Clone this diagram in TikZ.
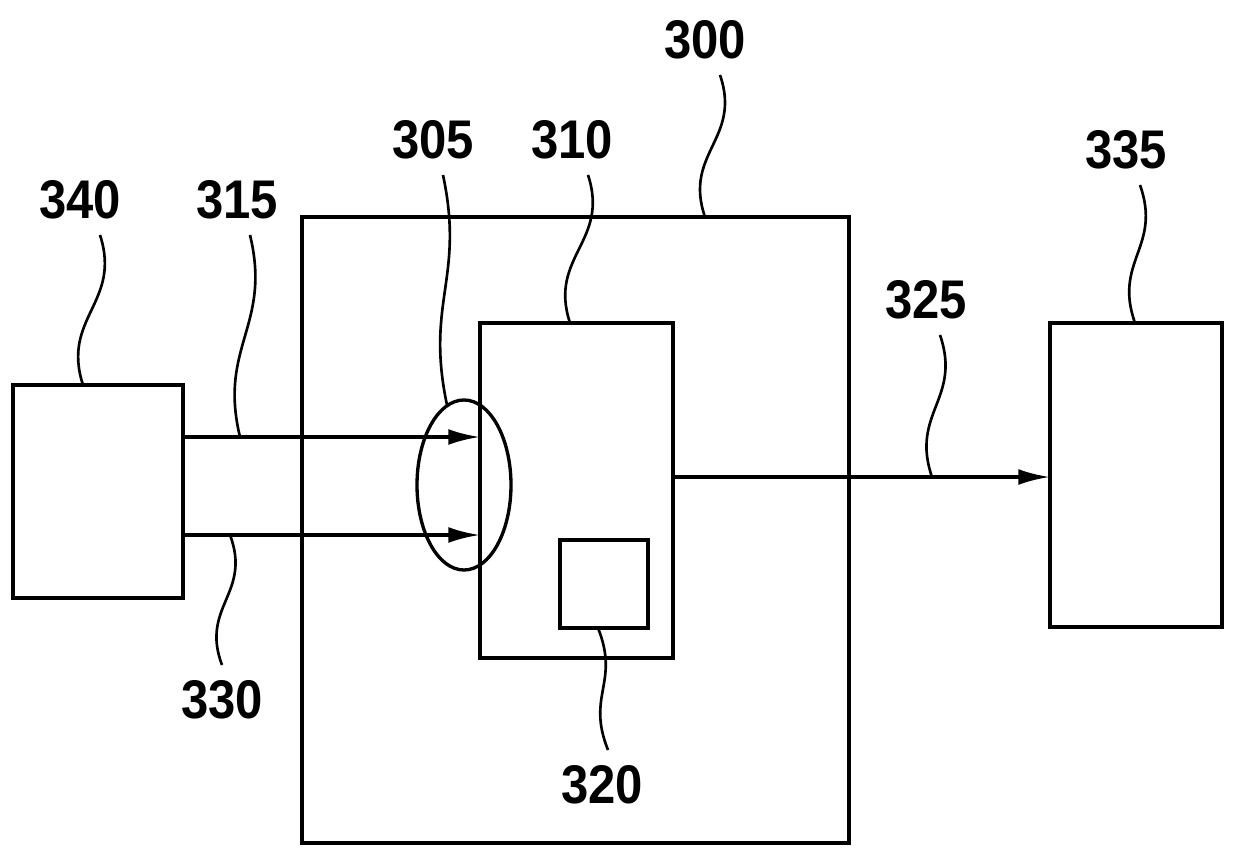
\documentclass[tikz,border=0pt]{standalone}
\usepackage{fontspec}
\setmainfont{Liberation Sans}
\usetikzlibrary{arrows.meta}
\begin{document}
\begin{tikzpicture}[x=0.02cm,y=-0.02cm,line width=1.9pt,
  lbl/.style={font=\bfseries\fontsize{31}{31}\selectfont,inner sep=0pt,xscale=0.9},
  box/.style={draw},
  arr/.style={-{Latex[length=18pt,width=9pt]}},
  lead/.style={line width=1.5pt}]
\useasboundingbox (0,0) rectangle (1237,858);
\draw[box] (302,217) rectangle (849,843);
\draw[box] (480,323) rectangle (673,658);
\draw[box] (560,540) rectangle (648,628);
\draw[box] (13,385) rectangle (183,598);
\draw[box] (1050,323) rectangle (1222,627);
\draw (464,485) ellipse [x radius=47, y radius=85];
\coordinate (o1) at (183,437); \coordinate (i1) at (480,437);
\coordinate (o2) at (183,535); \coordinate (i2) at (480,535);
\coordinate (o3) at (673,477); \coordinate (i3) at (1050,477);
\draw[arr] (o1) -- (i1);
\draw[arr] (o2) -- (i2);
\draw[arr] (o3) -- (i3);
\node[lbl] (l300) at (705,40) {300};
\node[lbl] (l305) at (433,140) {305};
\node[lbl] (l310) at (572,140) {310};
\node[lbl] (l340) at (80,200) {340};
\node[lbl] (l315) at (237,200) {315};
\node[lbl] (l335) at (1126,150) {335};
\node[lbl] (l325) at (926,300) {325};
\node[lbl] (l330) at (222,700) {330};
\node[lbl] (l320) at (602,785) {320};
\newcommand\leadline[4]{\draw[lead] (#1,#2) .. controls ({#1+22},{#2+0.45*(#4-#2)}) and ({#3-22},{#2+0.55*(#4-#2)}) .. (#3,#4);}
\leadline{720}{75}{705}{217}
\leadline{443}{175}{447}{405}
\leadline{588}{175}{570}{323}
\leadline{100}{235}{83}{385}
\leadline{250}{235}{240}{437}
\leadline{1140}{185}{1135}{323}
\leadline{940}{335}{932}{477}
\leadline{230}{535}{222}{665}
\leadline{598}{628}{608}{750}
\end{tikzpicture}
\end{document}
